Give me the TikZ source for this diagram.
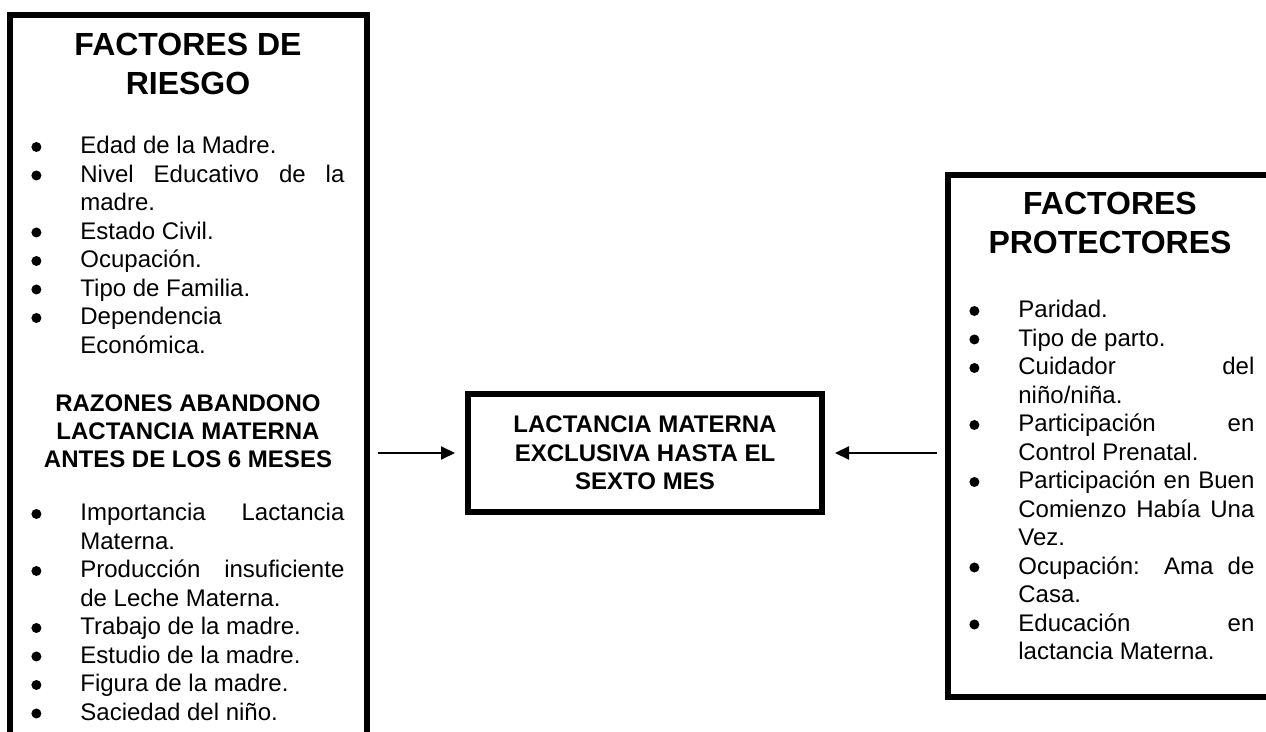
\documentclass[tikz,border=0pt]{standalone}
\usepackage{fontspec}
\setmainfont{Liberation Sans}
\usetikzlibrary{arrows.meta}

\hyphenpenalty=10000
\exhyphenpenalty=10000

\newcommand{\punto}{\tikz[baseline=-3.4pt]\fill (0,0) circle (2.5pt);}

\newenvironment{vinetas}[1]{%
    \begin{minipage}[t]{#1}%
    \fontsize{12}{14.25}\selectfont
    \begin{list}{\punto}{%
        \setlength{\leftmargin}{29pt}%
        \setlength{\labelwidth}{29pt}%
        \setlength{\labelsep}{0pt}%
        \setlength{\itemsep}{0pt}%
        \setlength{\parsep}{0pt}%
        \setlength{\topsep}{0pt}%
        \setlength{\partopsep}{0pt}%
        \renewcommand{\makelabel}[1]{\hspace{4.5pt}##1\hfil}}%
}{%
    \end{list}%
    \end{minipage}%
}

\begin{document}
\begin{tikzpicture}[
    x=0.5pt, y=-0.5pt,
    marco/.style={rectangle, draw, line width=3pt, inner sep=0pt},
    titulo/.style={font=\bfseries\fontsize{16}{19.5}\selectfont, align=center, inner sep=0pt, anchor=north},
    subtitulo/.style={font=\bfseries\fontsize{12}{14}\selectfont, align=center, inner sep=0pt, anchor=north},
    lista/.style={inner sep=0pt, anchor=north west},
    flecha/.style={-{Triangle[length=7pt, width=6.5pt]}, line width=1pt}
]
    \useasboundingbox (0,0) rectangle (1266,732);
    \clip (0,0) rectangle (1266,732);

    \node[marco, minimum width=178.5pt, minimum height=382.5pt] (riesgo) at (188,397.5) {};
    \node[marco, minimum width=162.5pt, minimum height=261pt] (protectores) at (1110,436.5) {};

    \node[
        marco,
        font=\bfseries\fontsize{12}{14.25}\selectfont,
        align=center,
        minimum width=177pt,
        minimum height=59pt
    ] (lactancia) at (645,453) {LACTANCIA MATERNA\\EXCLUSIVA HASTA EL\\SEXTO MES};

    \node[titulo] (titriesgo) at (188,33) {FACTORES DE\\RIESGO};
    \node[lista] (factriesgo) at (22,136) {\begin{vinetas}{161pt}
        \item Edad de la Madre.
        \item Nivel Educativo de la\linebreak madre.
        \item Estado Civil.
        \item Ocupación.
        \item Tipo de Familia.
        \item Dependencia\newline Económica.
    \end{vinetas}};

    \node[subtitulo] (razones) at (188,394) {RAZONES ABANDONO\\LACTANCIA MATERNA\\ANTES DE LOS 6 MESES};
    \node[lista] (motivos) at (22,503) {\begin{vinetas}{161pt}
        \item Importancia Lactancia\linebreak Materna.
        \item Producción insuficiente\linebreak de Leche Materna.
        \item Trabajo de la madre.
        \item Estudio de la madre.
        \item Figura de la madre.
        \item Saciedad del niño.
    \end{vinetas}};

    \node[titulo] (titprot) at (1110,192) {FACTORES\\PROTECTORES};
    \node[lista] (factprot) at (960,300) {\begin{vinetas}{147pt}
        \item Paridad.
        \item Tipo de parto.
        \item Cuidador del\linebreak niño/niña.
        \item Participación en\linebreak Control Prenatal.
        \item Participación en Buen\linebreak Comienzo Había Una\linebreak Vez.
        \item Ocupación: Ama de\linebreak Casa.
        \item Educación en\linebreak lactancia Materna.
    \end{vinetas}};

    \draw[flecha, shorten <=4pt, shorten >=5pt] (riesgo.east |- lactancia.west) -- (lactancia.west);
    \draw[flecha, shorten <=4pt, shorten >=5pt] (protectores.west |- lactancia.east) -- (lactancia.east);
\end{tikzpicture}
\end{document}
